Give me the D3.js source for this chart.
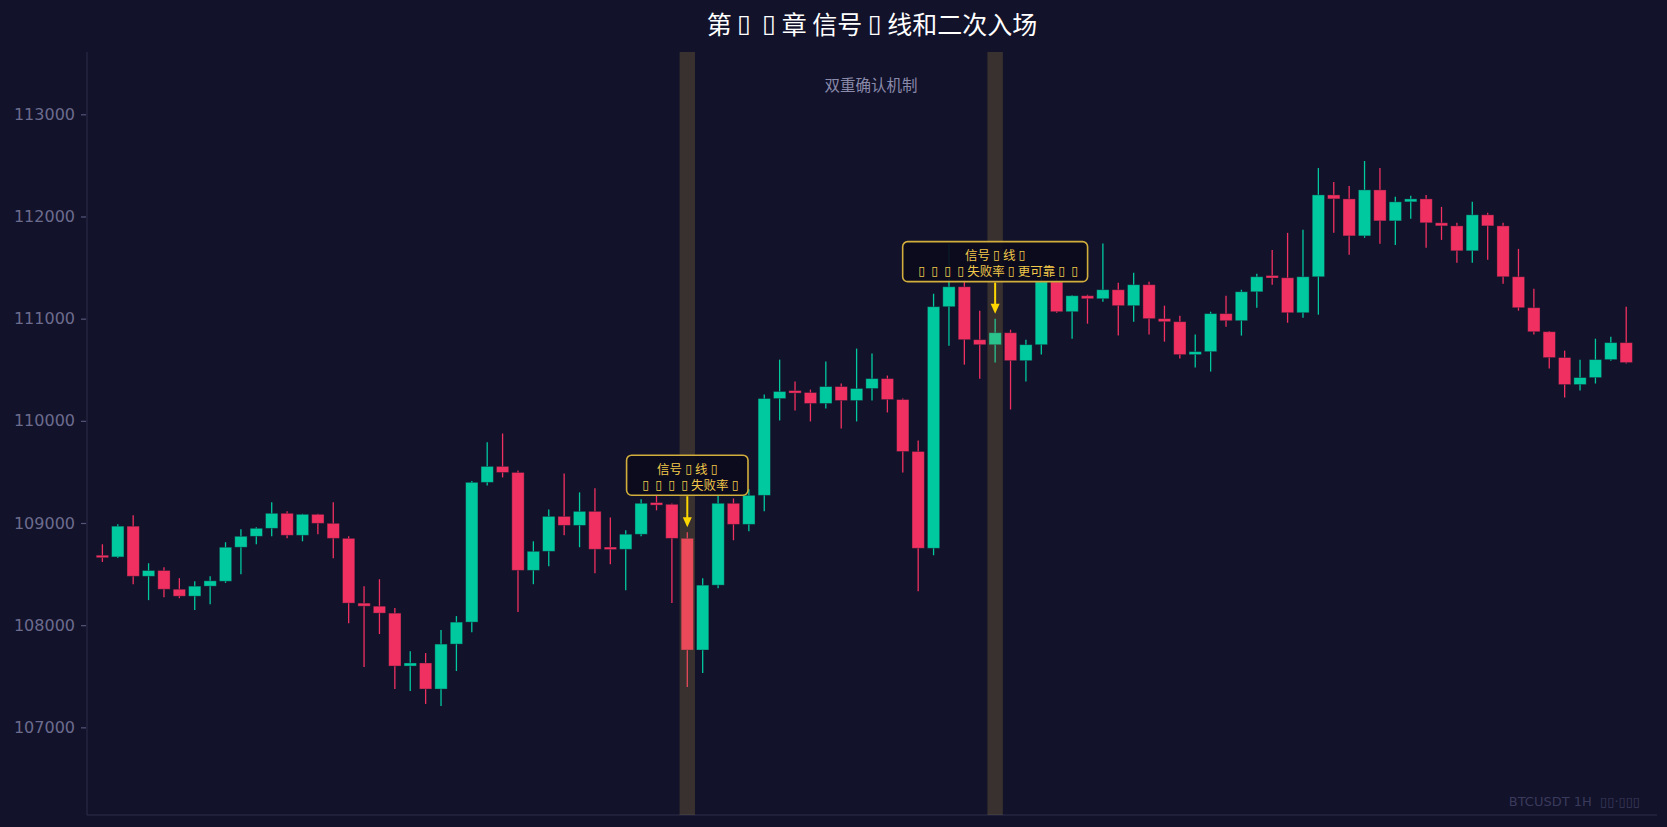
<!DOCTYPE html>
<html>
<head>
<meta charset="utf-8">
<script src="https://cdn.jsdelivr.net/npm/d3@7/dist/d3.min.js"></script>
<style>
  html, body { margin: 0; padding: 0; background: #12122a; }
  svg { display: block; }
  text { white-space: pre; }
</style>
</head>
<body>
<svg id="chart" width="1667" height="827"></svg>
<script>
// ---------- DATA ----------
const candleIndex = d3.range(100);
const opens = [108680,108668,108969,108479,108535,108352,108284,108382,108430,108763,
  108870,108948,109095,108880,109085,108997,108850,108216,108186,108118,
  107600,107630,107375,107815,108030,109398,109554,109495,108537,108723,
  109065,108977,109114,108760,108743,108890,109195,109183,108850,107757,
  108392,109193,108987,109271,110218,110287,110277,110170,110335,110199,
  110316,110413,110208,109700,108753,111117,111312,110794,110745,110862,
  110589,110745,111361,111068,111224,111195,111283,111127,111332,111000,
  110970,110648,110677,111049,110980,111263,111415,111400,111058,111410,
  112211,112172,111810,112260,111957,112143,112172,111938,111908,111664,
  112016,111908,111410,111107,110872,110619,110355,110423,110599,110765];
const highs = [108792,108987,109075,108606,108567,108460,108430,108479,108812,108939,
  108958,109203,109114,109090,109090,109203,108870,108382,108450,108167,
  107746,107727,107952,108089,109410,109790,109876,109515,108821,109133,
  109485,109300,109339,109055,108929,109232,109280,109190,108910,108460,
  109280,109240,109330,110257,110599,110384,110306,110580,110365,110707,
  110658,110443,110218,109807,111244,111728,111380,111078,111000,110892,
  110794,111430,111400,111230,111234,111736,111351,111449,111361,111127,
  111029,110844,111068,111224,111283,111439,111673,111840,111869,112475,
  112338,112299,112543,112475,112192,112202,112211,112094,111938,112143,
  112036,111938,111683,111293,110880,110687,110599,110804,110824,111117];
const lows = [108619,108658,108401,108245,108274,108264,108148,108206,108414,108499,
  108792,108870,108850,108821,108890,108655,108020,107590,107913,107375,
  107356,107229,107209,107551,107932,109368,109446,108128,108401,108577,
  108880,108763,108509,108596,108343,108870,109124,108216,107395,107531,
  108362,108831,108919,109114,110004,110101,109994,110121,109926,109994,
  110199,110082,109495,108333,108685,110736,110550,110413,110570,110111,
  110384,110648,111058,110804,110951,111166,110834,110970,110844,110775,
  110609,110521,110482,110921,110834,111107,111332,110960,111009,111039,
  111840,111625,111791,111732,111722,111977,111693,111771,111547,111547,
  111576,111341,111078,110844,110511,110228,110296,110365,110589,110560];
const closes = [108665,108969,108479,108535,108352,108284,108382,108434,108763,108870,
  108948,109095,108880,109085,108997,108850,108216,108186,108118,107600,
  107630,107375,107815,108030,109398,109554,109495,108537,108723,109065,
  108977,109114,108743,108745,108890,109193,109180,108850,107757,108392,
  109193,108987,109271,110218,110287,110280,110170,110335,110199,110316,
  110413,110208,109700,108753,111117,111312,110794,110745,110862,110589,
  110745,111361,111068,111224,111195,111283,111127,111332,111000,110970,
  110648,110677,111049,110980,111263,111410,111405,111058,111410,112211,
  112172,111810,112260,111957,112143,112172,111938,111908,111664,112016,
  111908,111410,111107,110872,110619,110355,110423,110599,110765,110570];
const yTickValues = [107000,108000,109000,110000,111000,112000,113000];
const highlightIdx = [38, 58];
const annotations = [
  { idx: 38, lines: ["信号▯线▯", "▯▯▯▯失败率▯"] },
  { idx: 58, lines: ["信号▯线▯", "▯▯▯▯失败率▯更可靠▯▯"] }
];
const titleText = "第▯▯章 信号▯线和二次入场";
const subtitleText = "双重确认机制";
const watermarkText = "BTCUSDT 1H  ▯▯·▯▯▯";

// ---------- LAYOUT ----------
const W = 1667, H = 827;
const L = 87, R = 1657, T = 52, B = 815;
const C = {
  bg: "#12122a", up: "#00c9a0", down: "#f03060",
  spine: "#2c2c48", tick: "#55557a", tickText: "#6c6c8e",
  band: "#d4b048", gold: "#ffd700", boxStroke: "#d2ae3c", boxText: "#f2c84a"
};
const CJK = "'Noto Sans CJK SC', 'Noto Sans', sans-serif";
const TOFU_FONT = "'DejaVu Sans'";

const svg = d3.select("#chart");
svg.append("rect").attr("width", W).attr("height", H).attr("fill", C.bg);

const lo = d3.min(lows), hi = d3.max(highs), rng = hi - lo;
const x = d3.scaleLinear().domain([-1, candleIndex.length + 1]).range([L, R]);
const y = d3.scaleLinear().domain([lo - 0.2 * rng, hi + 0.2 * rng]).range([B, T]);

function measure(str, size, family) {
  const t = svg.append("text").attr("font-size", size).attr("font-family", family).text(str);
  const w = t.node().getComputedTextLength();
  t.remove();
  return w;
}
function fillRuns(parent, str, size, tofuEm) {
  const tw = measure("▯", size, TOFU_FONT);
  const pad = tofuEm ? Math.max(0, (tofuEm * size - tw) / 2) : 0;
  let carry = 0, buf = "";
  const flush = () => {
    if (!buf) return;
    const s = parent.append("tspan").text(buf);
    if (carry) s.attr("dx", carry);
    carry = 0; buf = "";
  };
  for (const ch of str) {
    if (ch === "▯") {
      flush();
      const s = parent.append("tspan").attr("font-family", TOFU_FONT).text(ch);
      if (carry + pad) s.attr("dx", carry + pad);
      carry = pad;
    } else buf += ch;
  }
  flush();
}
function richText(g, lines, opts) {
  const t = g.append("text")
    .attr("x", opts.x).attr("y", opts.y)
    .attr("text-anchor", opts.anchor || "middle")
    .attr("dominant-baseline", "central")
    .attr("font-size", opts.size)
    .attr("font-family", opts.family || CJK)
    .attr("fill", opts.fill);
  if (lines.length === 1) { fillRuns(t, lines[0], opts.size, opts.tofuEm); return t; }
  lines.forEach((ln, k) => {
    const ts = t.append("tspan").attr("x", opts.x).attr("y", opts.y + k * opts.lineH);
    fillRuns(ts, ln, opts.size, opts.tofuEm);
  });
  return t;
}

// ---------- AXES ----------
const yAxis = d3.axisLeft(y).tickValues(yTickValues).tickSize(5).tickPadding(6)
  .tickFormat(d3.format("d"));
const ga = svg.append("g").attr("transform", `translate(${L - 1},0)`).call(yAxis);
ga.select(".domain").remove();
ga.selectAll(".tick line").attr("stroke", C.tick).attr("stroke-width", 1.2);
ga.selectAll(".tick text").attr("fill", C.tickText).attr("font-size", 16)
  .attr("font-family", "'DejaVu Sans', sans-serif");
svg.append("line").attr("x1", L).attr("x2", L).attr("y1", T).attr("y2", B)
  .attr("stroke", C.spine).attr("stroke-width", 1);
svg.append("line").attr("x1", L).attr("x2", R).attr("y1", B).attr("y2", B)
  .attr("stroke", C.spine).attr("stroke-width", 1.2);

// ---------- CANDLES ----------
const bw = x(0.4) - x(-0.4);
const gc = svg.append("g");
candleIndex.forEach(i => {
  const o = opens[i], c = closes[i], h = highs[i], l = lows[i];
  const col = c >= o ? C.up : C.down;
  gc.append("line").attr("x1", x(i)).attr("x2", x(i))
    .attr("y1", y(h)).attr("y2", y(l)).attr("stroke", col).attr("stroke-width", 1.3);
  const top = y(Math.max(o, c)), bot = y(Math.min(o, c));
  const hgt = Math.max(2.5, bot - top);
  gc.append("rect").attr("x", x(i) - bw / 2).attr("width", bw)
    .attr("y", (top + bot) / 2 - hgt / 2).attr("height", hgt)
    .attr("fill", col).attr("stroke", "#1a1a30").attr("stroke-opacity", 0.5).attr("stroke-width", 0.8);
});

// ---------- HIGHLIGHT BANDS ----------
svg.append("g").selectAll("rect").data(highlightIdx).join("rect")
  .attr("x", d => x(d - 0.5)).attr("width", d => x(d + 0.5) - x(d - 0.5))
  .attr("y", T).attr("height", B - T)
  .attr("fill", C.band).attr("fill-opacity", 0.2);

// ---------- ANNOTATIONS ----------
const gan = svg.append("g");
annotations.forEach(a => {
  const cx = x(a.idx);
  const hy = y(highs[a.idx]);
  const boxBottom = hy - 37, boxH = 40, boxTop = boxBottom - boxH;
  const g = gan.append("g");
  const rect = g.append("rect");
  const t = richText(g, a.lines, { x: cx, y: boxTop + 12.5, size: 12.5, fill: C.boxText, tofuEm: 1.04, lineH: 16 });
  const w = t.node().getBBox().width + 25;
  rect.attr("x", cx - w / 2).attr("y", boxTop).attr("width", w).attr("height", boxH)
    .attr("rx", 5).attr("fill", "#0b0b1c").attr("fill-opacity", 0.92)
    .attr("stroke", C.boxStroke).attr("stroke-width", 1.6);
  const tipY = hy - 5;
  g.append("line").attr("x1", cx).attr("x2", cx).attr("y1", boxBottom + 1).attr("y2", tipY - 8)
    .attr("stroke", C.gold).attr("stroke-width", 2);
  g.append("path")
    .attr("d", `M${cx - 4.5},${tipY - 10} L${cx + 4.5},${tipY - 10} L${cx},${tipY} Z`)
    .attr("fill", C.gold);
});

// ---------- TEXTS ----------
richText(svg, [titleText], { x: (L + R) / 2, y: 23, size: 25, fill: "#ffffff", tofuEm: 1 });
svg.append("text").attr("x", 871).attr("y", 84).attr("text-anchor", "middle")
  .attr("dominant-baseline", "central").attr("font-size", 15.5).attr("font-family", CJK)
  .attr("fill", "#8a8aaa").text(subtitleText);
richText(svg, [watermarkText], { x: 1640, y: 801, size: 13, fill: "#3a3a5c", anchor: "end", tofuEm: 0,
  family: "'DejaVu Sans', 'Noto Sans CJK SC', sans-serif" });
</script>
</body>
</html>
